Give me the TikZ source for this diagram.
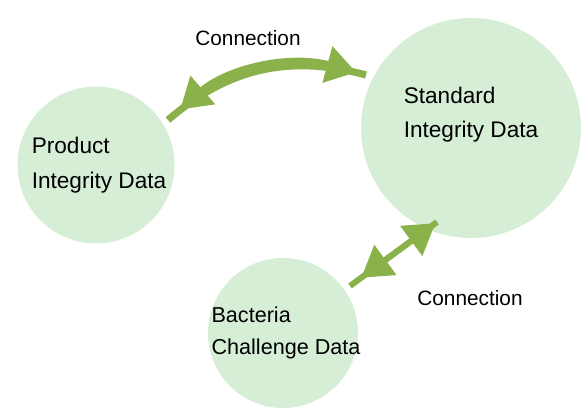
\documentclass[tikz,border=0pt]{standalone}
\usepackage{fontspec}
\setmainfont{Liberation Sans}
\usetikzlibrary{positioning,arrows.meta}

\definecolor{blobgreen}{RGB}{214,237,214}
\definecolor{linkgreen}{RGB}{139,178,74}

\begin{document}
\begin{tikzpicture}[
    x=0.5pt, y=-0.5pt,
    blob/.style={circle, fill=blobgreen, inner sep=0pt}, % Style for data circles
    txt/.style={align=left, inner sep=0pt},
    link/.style={linkgreen, line width=#1},
    link/.default=3.6pt,
    tips/.style={{Triangle[length=15pt,width=18pt]}-{Triangle[length=15pt,width=18pt]}}
]
\useasboundingbox (0,0) rectangle (583,411);

% Circles
\node[blob, minimum size=78.5pt] (product) at (96,165) {};
\node[blob, minimum size=110pt] (standard) at (471,128) {};
\node[blob, minimum size=75pt] (bacteria) at (283,333) {};

% Texts inside the circles
\node[txt, font=\fontsize{11.3}{17.5}\selectfont] (producttxt) at ([xshift=1.5pt]product.center) {Product\\Integrity Data};
\node[txt, font=\fontsize{11.3}{17}\selectfont] (standardtxt) at ([yshift=6.5pt]standard.center) {Standard\\Integrity Data};
\node[txt, font=\fontsize{10.8}{16}\selectfont] (bacteriatxt) at ([xshift=1.5pt]bacteria.center) {Bacteria\\Challenge Data};

% Free ends of the connectors
\coordinate (p1) at (168,120);
\coordinate (s1) at (366,75);
\coordinate (b1) at (350,286);
\coordinate (s2) at (437,222);

% Top connection (curved)
\draw[link] (p1) to[bend left=28] (s1);
\draw[link, tips, shorten <=8pt, shorten >=5pt] (p1) to[bend left=28] (s1);
\node[font=\fontsize{10.4}{12}\selectfont] (toplabel) at (248,38) {Connection};

% Bottom connection (straight)
\draw[link=3pt] (b1) -- (s2);
\draw[link=3pt, tips, shorten <=7pt, shorten >=1pt] (b1) -- (s2);
\node[font=\fontsize{10.4}{12}\selectfont] (bottomlabel) at (470,298) {Connection};

\end{tikzpicture}
\end{document}
